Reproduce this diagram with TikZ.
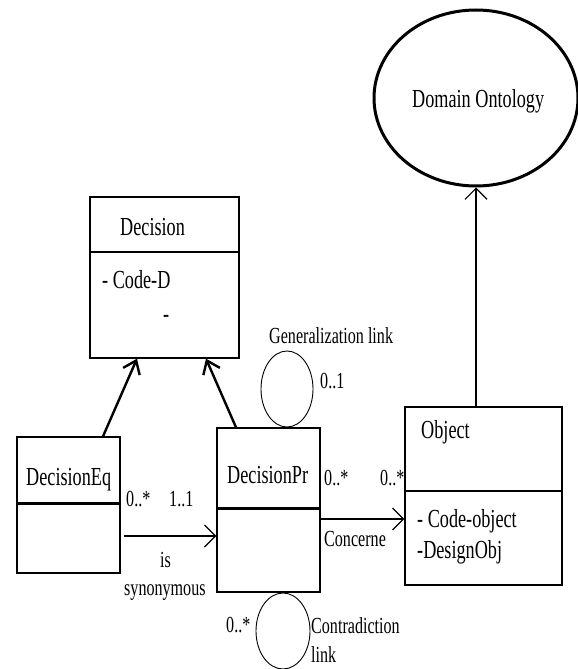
\documentclass[tikz,border=0pt]{standalone}
\usepackage{fontspec}
\setmainfont[FakeStretch=0.7]{Liberation Serif}
\usetikzlibrary{arrows.meta,shapes.geometric}
\begin{document}
\begin{tikzpicture}[x=1pt,y=-1pt,
  classbox/.style={draw,line width=1.3pt,rectangle,inner sep=0pt},
  loop/.style={draw,line width=0.9pt,ellipse,inner sep=0pt},
  title/.style={inner sep=0pt,anchor=base west,font=\fontsize{26}{28}\selectfont},
  lbl/.style={inner sep=0pt,anchor=base west,font=\fontsize{23}{25}\selectfont},
  thin/.style={line width=1.2pt,-{Straight Barb[length=11pt,width=22pt,line width=1.2pt]}},
  heavy/.style={line width=2.4pt,-{Straight Barb[length=12pt,width=18pt,line width=2.4pt]}},
  divider/.style={line width=1.3pt},
  thickdivider/.style={line width=3pt}]
\useasboundingbox (0,0) rectangle (578,669);

% class boxes
\node[classbox,minimum width=149pt,minimum height=161pt] (dec) at (164.5,277.5) {};
\node[classbox,minimum width=103pt,minimum height=136pt] (deceq) at (68.5,505) {};
\node[classbox,minimum width=103pt,minimum height=164pt] (decpr) at (268.5,510) {};
\node[classbox,minimum width=157pt,minimum height=178pt] (obj) at (483.5,496) {};

% ontology and self-association loops
\node[draw,ellipse,line width=3pt,inner sep=0pt,minimum width=204pt,minimum height=176pt] (onto) at (476,98) {};
\node[loop,minimum width=52pt,minimum height=76pt] (gen) at (287,389) {};
\node[loop,minimum width=54pt,minimum height=76pt] (contr) at (283,631) {};

% compartment dividers
\draw[divider] (dec.west |- 0,252) -- (dec.east |- 0,252);
\draw[thickdivider] (deceq.west |- 0,503) -- (deceq.east |- 0,503);
\draw[thickdivider] (decpr.west |- 0,508) -- (decpr.east |- 0,508);
\draw[divider] (obj.west |- 0,491) -- (obj.east |- 0,491);

% texts
\node[title] (tdec) at (120,235) {Decision};
\node[title] (tcoded) at (102,288) {- Code-D};
\node[title] (tdash) at (163,322) {-};
\node[title] (teq) at (26,485) {DecisionEq};
\node[title] (tpr) at (227,483) {DecisionPr};
\node[title] (tobj) at (421,438) {Object};
\node[title] (tcodeo) at (417,527) {- Code-object};
\node[title] (tdesign) at (417,558) {-DesignObj};
\node[title] (tonto) at (412,107) {Domain Ontology};

\node[lbl] (lgen) at (269,343) {Generalization link};
\node[lbl] (lgenm) at (320,388) {0..1};
\node[lbl] (lprm) at (324,485) {0..*};
\node[lbl] (lobjm) at (380,485) {0..*};
\node[lbl] (lconc) at (324,546) {Concerne};
\node[lbl] (lcm) at (226,632) {0..*};
\node[lbl] (lcontr) at (311,633) {Contradiction};
\node[lbl] (llink) at (311,662) {link};
\node[lbl] (leqm) at (126,506) {0..*};
\node[lbl] (lprm2) at (169,506) {1..1};
\node[lbl] (lis) at (160,567) {is};
\node[lbl] (lsyn) at (124,595) {synonymous};

% connectors
\draw[heavy] ([xshift=34.5pt]deceq.north) -- ([xshift=-27.5pt]dec.south);
\draw[heavy] ([xshift=-32.5pt]decpr.north) -- ([xshift=41.5pt]dec.south);
\draw[thin] (onto.south |- obj.north) -- (onto.south);
\draw[thin] ([shift={(3,31)}]deceq.east) -- (decpr.west |- 0,536);
\draw[thin] (decpr.east |- 0,519) -- (obj.west |- 0,519);
\end{tikzpicture}
\end{document}
